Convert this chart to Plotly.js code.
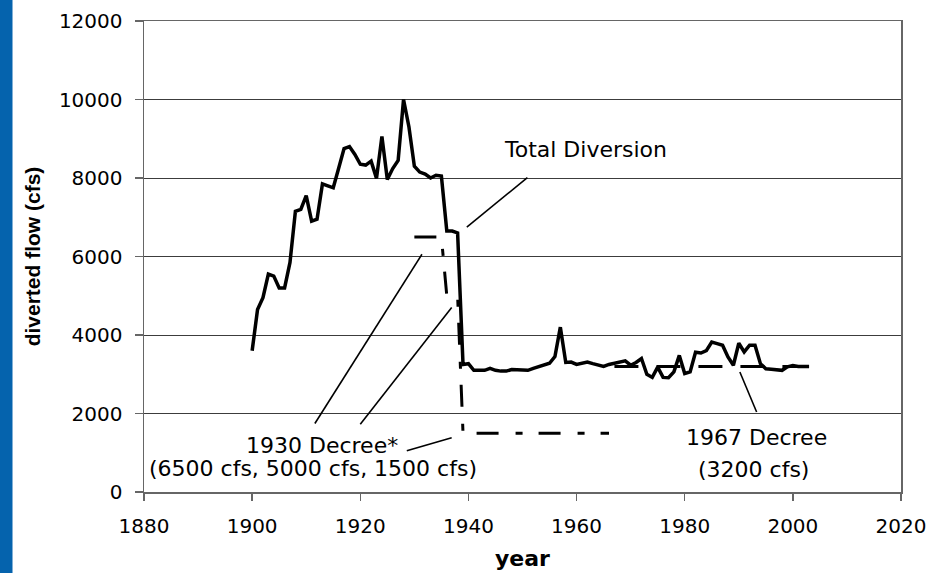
<!DOCTYPE html>
<html>
<head>
<meta charset="utf-8">
<script src="https://cdn.plot.ly/plotly-3.0.1.min.js"></script>
<style>
  html, body { margin: 0; padding: 0; background: #ffffff; }
  #chart { width: 926px; height: 573px; }
</style>
</head>
<body>
<div id="chart"></div>
<script>
// ---- Data ----
const years = [1900,1901,1902,1903,1904,1905,1906,1907,1908,1909,
               1910,1911,1912,1913,1914,1915,1916,1917,1918,1919,
               1920,1921,1922,1923,1924,1925,1926,1927,1928,1929,
               1930,1931,1932,1933,1934,1935,1936,1937,1938,1939,
               1940,1941,1942,1943,1944,1945,1946,1947,1948,1949,
               1950,1951,1952,1953,1954,1955,1956,1957,1958,1959,
               1960,1961,1962,1963,1964,1965,1966,1967,1968,1969,
               1970,1971,1972,1973,1974,1975,1976,1977,1978,1979,
               1980,1981,1982,1983,1984,1985,1986,1987,1988,1989,
               1990,1991,1992,1993,1994,1995,1996,1997,1998,1999,
               2000,2001,2002,2003];
const totalDiversion = [3600,4650,4950,5550,5500,5200,5200,5850,7150,7200,
                        7550,6900,6950,7850,7800,7750,8250,8750,8800,8600,
                        8350,8330,8430,7990,9060,7960,8240,8450,10000,9300,
                        8300,8150,8100,8000,8070,8050,6650,6650,6600,3250,
                        3270,3100,3100,3100,3150,3100,3080,3080,3120,3110,
                        3100,3100,3150,3200,3250,3280,3450,4200,3300,3310,
                        3250,3280,3310,3270,3240,3200,3250,3280,3330,3340,
                        3230,3300,3400,3000,2920,3180,2920,2910,3060,3480,
                        3020,3060,3560,3540,3600,3820,3780,3740,3440,3230,
                        3790,3570,3740,3740,3270,3140,3130,3110,3100,3190,
                        3220,3200,3200,3200];

const decree1930Years = [1930, 1935, 1936, 1938, 1939, 1966];
const decree1930Flow  = [6500, 6500, 5000, 5000, 1500, 1500];

const decree1967Years = [1967, 2003];
const decree1967Flow  = [3200, 3200];

const xTickVals = [1880,1900,1920,1940,1960,1980,2000,2020];
const yTickVals = [0,2000,4000,6000,8000,10000,12000];

// leader lines for the callouts: [x0, y0, x1, y1] in axis units
const leaderLines = [
  [1939.7, 6750, 1950.9, 8010],   // Total Diversion
  [1911.6, 1745, 1931.4, 6056],   // 1930 decree -> 6500
  [1920.0, 1725, 1936.9, 4698],   // 1930 decree -> 5000
  [1928.6, 1050, 1936.9, 1381],   // 1930 decree -> 1500
  [1990.2, 3057, 1993.3, 2038]    // 1967 decree
];

const labelFont = {family: 'DejaVu Sans, Arial, sans-serif', size: 22, color: '#000000'};

const traces = [
  {
    x: decree1930Years, y: decree1930Flow, type: 'scatter', mode: 'lines',
    line: {color: '#000000', width: 3, dash: '22px,17px,7px,16px'},
    hoverinfo: 'skip', showlegend: false
  },
  {
    x: decree1967Years, y: decree1967Flow, type: 'scatter', mode: 'lines',
    line: {color: '#000000', width: 3, dash: '24px,18px'},
    hoverinfo: 'skip', showlegend: false
  },
  {
    x: years, y: totalDiversion, type: 'scatter', mode: 'lines',
    line: {color: '#000000', width: 3.5},
    showlegend: false
  }
];

const shapes = leaderLines.map(l => ({
  type: 'line', xref: 'x', yref: 'y',
  x0: l[0], y0: l[1], x1: l[2], y1: l[3],
  line: {color: '#000000', width: 1.6}
}));
// blue strip on the left edge of the slide
shapes.push({
  type: 'rect', xref: 'paper', yref: 'paper', layer: 'below',
  x0: -144/757, x1: -131.5/757, y0: -82/471, y1: 22/471 + 1,
  fillcolor: '#0563ad', line: {width: 0}
});

const annotations = [
  {x: 1961.6, y: 8720, text: 'Total Diversion'},
  {x: 1912.9, y: 1190, text: '1930 Decree*'},
  {x: 1911.3, y: 600,  text: '(6500 cfs, 5000 cfs, 1500 cfs)'},
  {x: 1993.3, y: 1380, text: '1967 Decree'},
  {x: 1992.8, y: 575,  text: '(3200 cfs)'}
].map(a => Object.assign({
  xref: 'x', yref: 'y', showarrow: false,
  xanchor: 'center', yanchor: 'middle', font: labelFont
}, a));

const layout = {
  width: 926, height: 573,
  margin: {l: 144, r: 25, t: 21, b: 81, pad: 0},
  paper_bgcolor: '#ffffff', plot_bgcolor: '#ffffff',
  showlegend: false,
  xaxis: {
    range: [1880, 2020], tickvals: xTickVals, ticktext: xTickVals.map(String),
    ticks: 'outside', ticklen: 7, tickwidth: 1.5, tickcolor: '#666666',
    showline: true, linecolor: '#666666', linewidth: 1.5, mirror: true,
    showgrid: false, zeroline: false,
    ticklabelstandoff: 8, ticklabeloverflow: 'allow',
    tickfont: {family: 'DejaVu Sans, Arial, sans-serif', size: 20, color: '#000000'},
    title: {text: 'year', standoff: 14,
            font: {family: 'DejaVu Sans, Arial, sans-serif', size: 22, color: '#000000', weight: 'bold'}}
  },
  yaxis: {
    range: [0, 12000], tickvals: yTickVals, ticktext: yTickVals.map(String),
    ticks: 'outside', ticklen: 8, tickwidth: 1.5, tickcolor: '#666666',
    showline: true, linecolor: '#666666', linewidth: 1.5, mirror: true,
    showgrid: true, gridcolor: '#3c3c3c', gridwidth: 1, zeroline: false,
    ticklabelstandoff: 8,
    tickfont: {family: 'DejaVu Sans, Arial, sans-serif', size: 20, color: '#000000'},
    title: {text: 'diverted flow (cfs)', standoff: 12,
            font: {family: 'Liberation Sans, Arial, sans-serif', size: 21, color: '#000000', weight: 'bold'}}
  },
  shapes: shapes,
  annotations: annotations
};

Plotly.newPlot('chart', traces, layout, {displayModeBar: false, staticPlot: true});
</script>
</body>
</html>
